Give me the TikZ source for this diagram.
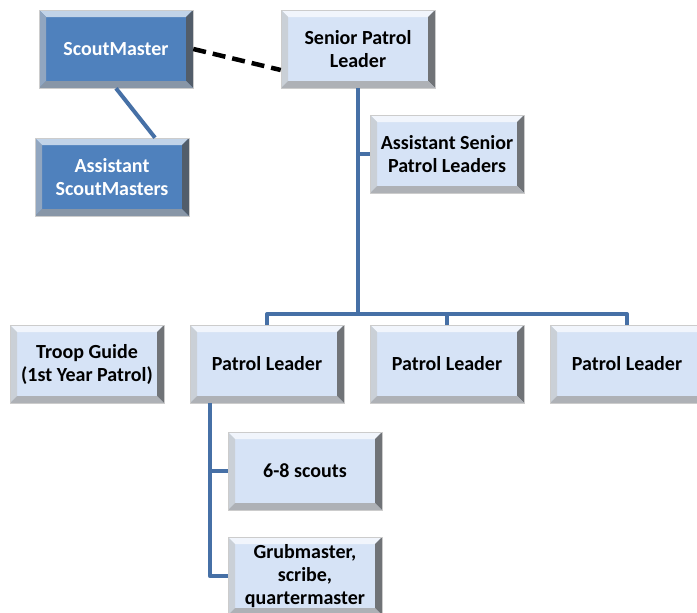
\documentclass[tikz,border=0pt]{standalone}
\usepackage{fontspec}
\setmainfont{Carlito}
\usetikzlibrary{calc}
\definecolor{boxlight}{RGB}{214,227,246}
\definecolor{boxdark}{RGB}{79,129,189}
\definecolor{connblue}{RGB}{70,112,166}
\tikzset{
  bevel/.style={path picture={
    \fill[#1!35!white] (path picture bounding box.north west) -- (path picture bounding box.north east)
      -- ([shift={(-7pt,-7pt)}]path picture bounding box.north east) -- ([shift={(7pt,-7pt)}]path picture bounding box.north west) -- cycle;
    \fill[#1!60!gray!70] (path picture bounding box.north west) -- ([shift={(7pt,-7pt)}]path picture bounding box.north west)
      -- ([shift={(7pt,7pt)}]path picture bounding box.south west) -- (path picture bounding box.south west) -- cycle;
    \fill[#1!30!black!75] (path picture bounding box.north east) -- ([shift={(-7pt,-7pt)}]path picture bounding box.north east)
      -- ([shift={(-7pt,7pt)}]path picture bounding box.south east) -- (path picture bounding box.south east) -- cycle;
    \fill[#1!50!black!55] (path picture bounding box.south west) -- ([shift={(7pt,7pt)}]path picture bounding box.south west)
      -- ([shift={(-7pt,7pt)}]path picture bounding box.south east) -- (path picture bounding box.south east) -- cycle;
  }},
  orgbox/.style={draw=gray!40, line width=0.6pt, fill=boxlight, bevel=boxlight,
    minimum width=154pt, minimum height=78pt, align=center,
    font=\fontsize{20}{23}\selectfont\bfseries, text=black, inner sep=0pt},
  leadbox/.style={orgbox, fill=boxdark, bevel=boxdark, text=white},
  conn/.style={draw=connblue, line width=4pt, line join=round},
}

\begin{document}
\begin{tikzpicture}[x=1pt, y=-1pt]
\useasboundingbox (0,0) rectangle (697,613);
% adult leaders
\node[leadbox] (sm) at (116,49) {ScoutMaster};
\node[leadbox] (asm) at (112,177) {Assistant\\ScoutMasters};
% youth leaders
\node[orgbox] (spl) at (358,49) {Senior Patrol\\Leader};
\node[orgbox] (aspl) at (447,154) {Assistant Senior\\Patrol Leaders};
\node[orgbox] (tg) at (87,364) {Troop Guide\\(1st Year Patrol)};
\node[orgbox] (pla) at (267,364) {Patrol Leader};
\node[orgbox] (plb) at (447,364) {Patrol Leader};
\node[orgbox] (plc) at (627,364) {Patrol Leader};
% patrol members
\node[orgbox] (scouts) at (305,471) {6-8 scouts};
\node[orgbox] (grub) at (305,576) {Grubmaster,\\scribe,\\quartermaster};

\coordinate (bus) at (358,314);
\coordinate (trunk) at ([xshift=20pt]pla.south west);

\draw[conn] (sm.south) -- ([xshift=43pt]asm.north);
\draw[black, line width=4.5pt, dash pattern=on 13pt off 7pt] (sm.east) -- ([yshift=-21pt]spl.west);
\draw[conn] (spl.south) -- (bus);
\draw[conn] (spl.south |- aspl.west) -- (aspl.west);
\draw[conn] (pla.north) |- (bus) -| (plc.north);
\draw[conn] (plb.north |- bus) -- (plb.north);
\draw[conn] (trunk) |- (grub.west);
\draw[conn] (trunk |- scouts.west) -- (scouts.west);
\end{tikzpicture}
\end{document}
